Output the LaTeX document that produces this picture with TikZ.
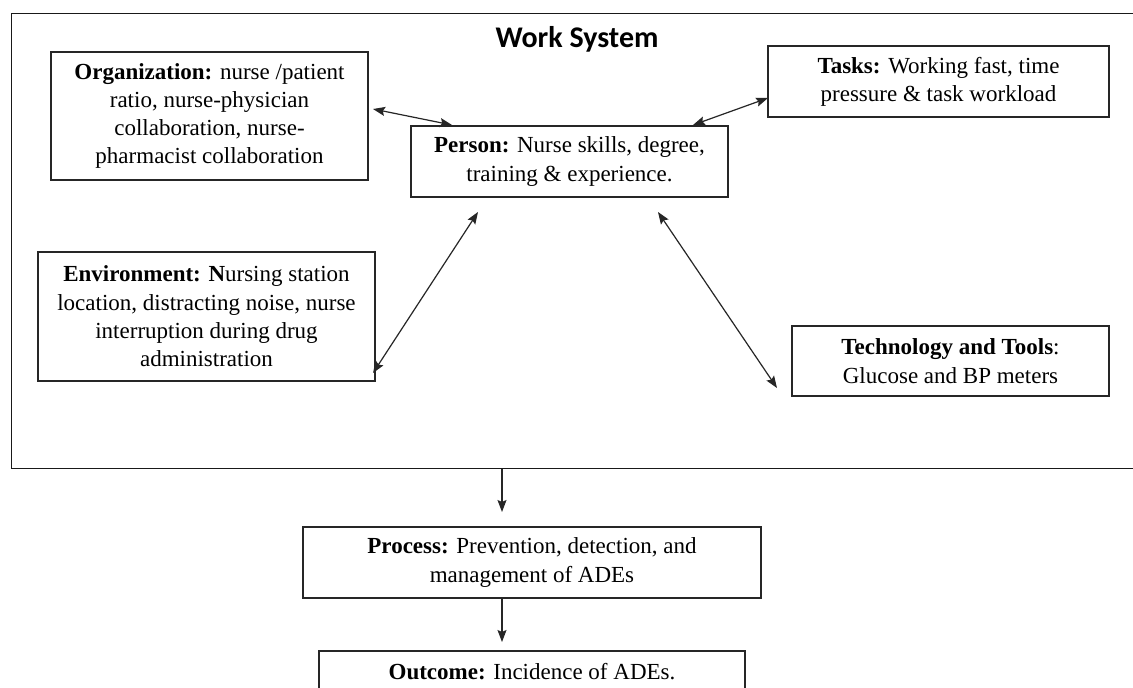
\documentclass[tikz,border=0pt]{standalone}
\usepackage{fontspec}
\setmainfont{Liberation Serif}
\newfontfamily\titlefont{Carlito}
\usetikzlibrary{arrows.meta,calc}
\begin{document}
\begin{tikzpicture}[x=1pt,y=-1pt,
  box/.style={draw=black!85, line width=1.2pt, align=center, inner sep=0pt,
    font=\fontsize{23}{28.3}\selectfont},
  frame/.style={draw=black!90, line width=1.4pt, inner sep=0pt},
  uarr/.style={line width=1.2pt, draw=black!85, -{Stealth[length=12pt,width=9pt,inset=2pt]}},
  darr/.style={line width=1.2pt, draw=black!85, {Stealth[length=12pt,width=9pt,inset=2pt]}-{Stealth[length=12pt,width=9pt,inset=2pt]}}]
\useasboundingbox (0,0) rectangle (1133,688);
\clip (0,0) rectangle (1133,688);
\fill[white] (0,0) rectangle (1133,688);

% outer work system frame (right side runs off the page)
\node[frame, anchor=north west, minimum width=1140pt, minimum height=455pt] (ws) at (11,13) {};
\node[anchor=base, font=\titlefont\bfseries\fontsize{30}{36}\selectfont] (title) at (577,47) {Work System};

\node[box, minimum width=317pt, minimum height=128pt] (org) at (209.5,116)
  {\textbf{Organization:} nurse /patient\\ratio, nurse-physician\\collaboration, nurse-\\pharmacist collaboration};
\node[box, minimum width=317pt, minimum height=71pt] (person) at (569.5,161.5)
  {\textbf{Person:} Nurse skills, degree,\\training \& experience.};
\node[box, minimum width=341pt, minimum height=71pt] (tasks) at (938.5,81.5)
  {\textbf{Tasks:} Working fast, time\\pressure \& task workload};
\node[box, minimum width=337pt, minimum height=129pt] (env) at (206.5,316.5)
  {\textbf{Environment: N}ursing station\\location, distracting noise, nurse\\interruption during drug\\administration};
\node[box, minimum width=317pt, minimum height=70pt] (tech) at (950.5,361)
  {\textbf{Technology and Tools}:\\Glucose and BP meters};
\node[box, minimum width=458pt, minimum height=71pt] (proc) at (532,562.5)
  {\textbf{Process:} Prevention, detection, and\\management of ADEs};
\node[box, minimum width=426pt, minimum height=42pt] (out) at (532,672)
  {\textbf{Outcome:} Incidence of ADEs.};

% arrow end points (gaps next to the boxes)
\coordinate (a1o) at (373,109);
\coordinate (a1p) at (452,125);
\coordinate (a2p) at (693,125);
\coordinate (a2t) at (768,98);
\coordinate (a3p) at (478,212);
\coordinate (a3e) at (373,373);
\coordinate (a4p) at (658,212);
\coordinate (a4t) at (777,388);
\coordinate (d1s) at (ws.south -| 502,0);
\coordinate (d1e) at (502,512);
\coordinate (d2s) at (proc.south -| 502,0);
\coordinate (d2e) at (502,642);

\draw[darr] (a1o) -- (a1p);
\draw[darr] (a2p) -- (a2t);
\draw[darr] (a3p) -- (a3e);
\draw[darr] (a4p) -- (a4t);
\draw[uarr] (d1s) -- (d1e);
\draw[uarr] (d2s) -- (d2e);
\end{tikzpicture}
\end{document}
